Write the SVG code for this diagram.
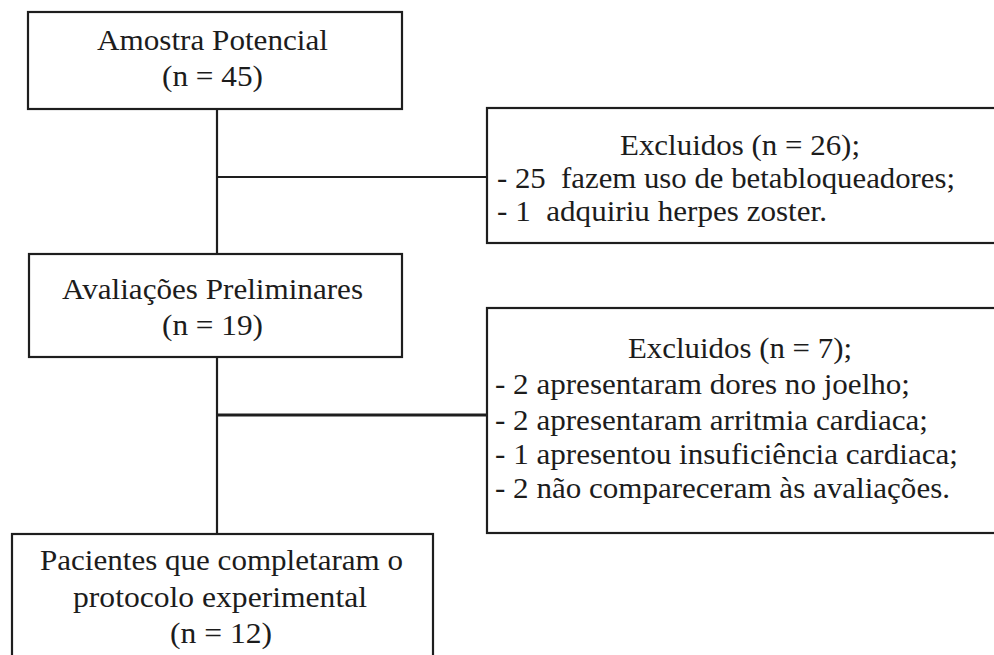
<svg xmlns="http://www.w3.org/2000/svg" width="994" height="655" viewBox="0 0 994 655">
<style>
.box{fill:#fff;stroke:#1e1e1e;stroke-width:2.2}
.ln{stroke:#1e1e1e;stroke-width:2.2;fill:none}
text{font-family:"Liberation Serif","Times New Roman",serif;font-size:29px;fill:#1c1c1c;white-space:pre}
</style>
<rect width="994" height="655" fill="#fff"/>
<g id="connectors">
<line class="ln" x1="217" y1="109" x2="217" y2="254"/>
<line class="ln" x1="217" y1="177" x2="487" y2="177"/>
<line class="ln" x1="217" y1="357" x2="217" y2="534"/>
<line class="ln" x1="217" y1="415" x2="487" y2="415" style="stroke-width:3"/>
</g>
<g id="amostra">
<rect class="box" x="28" y="12" width="374" height="97"/>
<text x="97" y="50" textLength="231" lengthAdjust="spacingAndGlyphs">Amostra Potencial</text>
<text x="162" y="86" textLength="101" lengthAdjust="spacingAndGlyphs">(n = 45)</text>
</g>
<g id="excluidos1">
<rect class="box" x="487" y="108" width="530" height="135"/>
<text x="620" y="155" textLength="240" lengthAdjust="spacingAndGlyphs">Excluidos (n = 26);</text>
<text x="497" y="188" textLength="458" lengthAdjust="spacingAndGlyphs">- 25  fazem uso de betabloqueadores;</text>
<text x="497" y="221" textLength="330" lengthAdjust="spacingAndGlyphs">- 1  adquiriu herpes zoster.</text>
</g>
<g id="avaliacoes">
<rect class="box" x="29" y="254" width="373" height="103"/>
<text x="62" y="299" textLength="301" lengthAdjust="spacingAndGlyphs">Avaliações Preliminares</text>
<text x="162" y="335" textLength="101" lengthAdjust="spacingAndGlyphs">(n = 19)</text>
</g>
<g id="excluidos2">
<rect class="box" x="487" y="308" width="530" height="225"/>
<text x="628" y="358" textLength="224" lengthAdjust="spacingAndGlyphs">Excluidos (n = 7);</text>
<text x="495" y="394" textLength="415" lengthAdjust="spacingAndGlyphs">- 2 apresentaram dores no joelho;</text>
<text x="495" y="430" textLength="433" lengthAdjust="spacingAndGlyphs">- 2 apresentaram arritmia cardiaca;</text>
<text x="495" y="464" textLength="463" lengthAdjust="spacingAndGlyphs">- 1 apresentou insuficiência cardiaca;</text>
<text x="495" y="498" textLength="455" lengthAdjust="spacingAndGlyphs">- 2 não compareceram às avaliações.</text>
</g>
<g id="pacientes">
<rect class="box" x="12" y="534" width="421" height="140"/>
<text x="40" y="570" textLength="363" lengthAdjust="spacingAndGlyphs">Pacientes que completaram o</text>
<text x="73" y="607" textLength="294" lengthAdjust="spacingAndGlyphs">protocolo experimental</text>
<text x="170" y="643" textLength="102" lengthAdjust="spacingAndGlyphs">(n = 12)</text>
</g>
</svg>
